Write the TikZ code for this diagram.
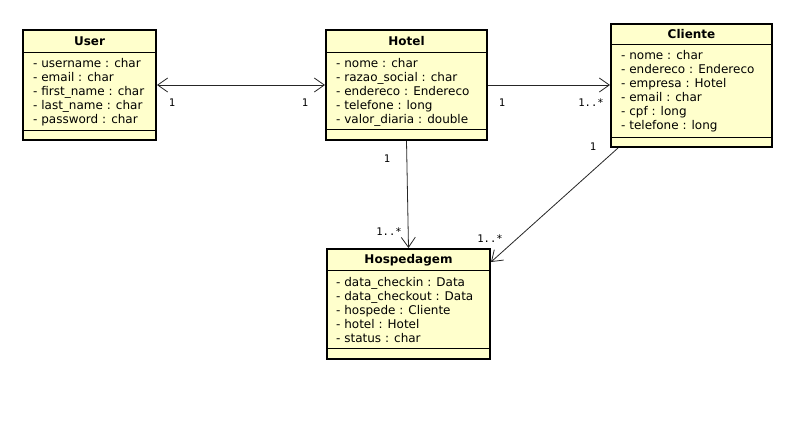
\documentclass[tikz,border=0pt]{standalone}
\usepackage{fontspec}
\setmainfont{DejaVu Sans}
\setmonofont{DejaVu Sans Mono}
\usetikzlibrary{arrows.meta,calc}
\definecolor{umlfill}{HTML}{FFFFCC}
\begin{document}
\begin{tikzpicture}[x=1pt,y=-1pt,
  classbox/.style={draw=black,line width=2pt,fill=umlfill,inner sep=0pt,anchor=north west},
  sepline/.style={line width=1pt},
  ctitle/.style={font=\fontsize{12}{14}\selectfont\bfseries,anchor=base,inner sep=0pt},
  attr/.style={font=\fontsize{12}{14}\selectfont,anchor=base west,inner sep=0pt},
  mult/.style={font=\fontsize{10.5}{12}\selectfont\ttfamily,inner sep=0pt},
  assoc/.style={line width=0.8pt,draw=black!85},
  barb/.tip={Straight Barb[length=10pt,width=14pt,line width=0.8pt]}
]
\fill[white] (0,0) rectangle (808,424);
\useasboundingbox (0,0) rectangle (808,424);

% User
\node[classbox,minimum width=133pt,minimum height=110pt] (user) at (22,29) {};
\draw[sepline] (user.west |- 0,52) -- (user.east |- 0,52);
\draw[sepline] (user.west |- 0,130) -- (user.east |- 0,130);
\node[ctitle] (user-t) at (user.north |- 0,45) {User};
\foreach \t [count=\i] in {- username : char,- email : char,- first\_name : char,- last\_name : char,- password : char}
  \node[attr] (user-a\i) at (33,{53+14*\i}) {\t};

% Hotel
\node[classbox,minimum width=161pt,minimum height=110pt] (hotel) at (325,29) {};
\draw[sepline] (hotel.west |- 0,52) -- (hotel.east |- 0,52);
\draw[sepline] (hotel.west |- 0,129) -- (hotel.east |- 0,129);
\node[ctitle] (hotel-t) at (hotel.north |- 0,45) {Hotel};
\foreach \t [count=\i] in {- nome : char,- razao\_social : char,- endereco : Endereco,- telefone : long,- valor\_diaria : double}
  \node[attr] (hotel-a\i) at (336,{53+14*\i}) {\t};

% Cliente
\node[classbox,minimum width=161pt,minimum height=123pt] (cliente) at (610,23) {};
\draw[sepline] (cliente.west |- 0,44) -- (cliente.east |- 0,44);
\draw[sepline] (cliente.west |- 0,137) -- (cliente.east |- 0,137);
\node[ctitle] (cliente-t) at (cliente.north |- 0,38) {Cliente};
\foreach \t [count=\i] in {- nome : char,- endereco : Endereco,- empresa : Hotel,- email : char,- cpf : long,- telefone : long}
  \node[attr] (cliente-a\i) at (621,{45+14*\i}) {\t};

% Hospedagem
\node[classbox,minimum width=163pt,minimum height=110pt] (hosp) at (326,248) {};
\draw[sepline] (hosp.west |- 0,270) -- (hosp.east |- 0,270);
\draw[sepline] (hosp.west |- 0,348) -- (hosp.east |- 0,348);
\node[ctitle] (hosp-t) at (hosp.north |- 0,263) {Hospedagem};
\foreach \t [count=\i] in {- data\_checkin : Data,- data\_checkout : Data,- hospede : Cliente,- hotel : Hotel,- status : char}
  \node[attr] (hosp-a\i) at (336,{272+14*\i}) {\t};

% associations
\draw[assoc,barb-barb] (user.east) -- (hotel.west);
\draw[assoc,-barb] (hotel.east) -- (cliente.west |- hotel.east);
\draw[assoc,-barb] (hotel.south) -- (hosp.north);
\draw[assoc,-barb] ([xshift=8pt]cliente.south west) -- ([yshift=-14pt]hosp.north east);

% multiplicities
\node[mult] (m1) at (172,103) {1};
\node[mult] (m2) at (305,103) {1};
\node[mult] (m3) at (502,103) {1};
\node[mult] (m4) at (591,103) {1..*};
\node[mult] (m5) at (387,159) {1};
\node[mult] (m6) at (389,232) {1..*};
\node[mult] (m7) at (593,147) {1};
\node[mult] (m8) at (490,239) {1..*};
\end{tikzpicture}
\end{document}
